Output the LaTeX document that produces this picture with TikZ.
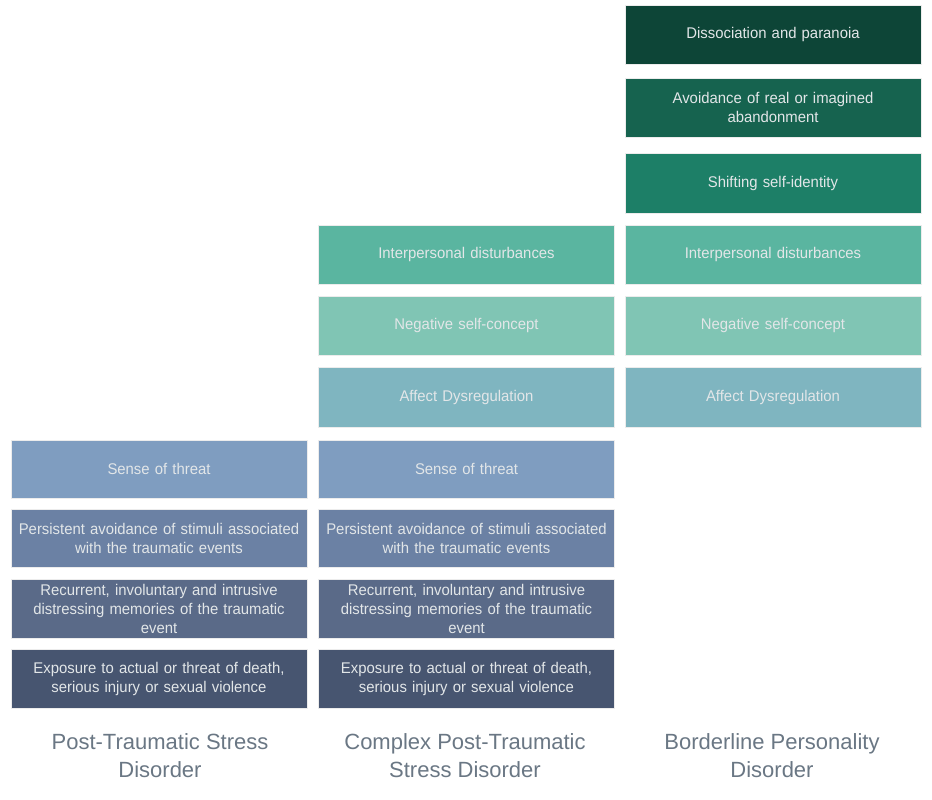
\documentclass[tikz,border=0pt]{standalone}
\usepackage{fontspec}
\setmainfont{Liberation Sans}
\newfontfamily\boxfont[FakeStretch=0.96]{Liberation Sans}
\newfontfamily\labfont{Liberation Sans}
\definecolor{cDis}{HTML}{0D4537}
\definecolor{cAvo}{HTML}{16634F}
\definecolor{cShi}{HTML}{1D7F67}
\definecolor{cInt}{HTML}{5AB5A0}
\definecolor{cNeg}{HTML}{80C5B4}
\definecolor{cAff}{HTML}{7FB5C0}
\definecolor{cSen}{HTML}{7F9DC0}
\definecolor{cPer}{HTML}{6B81A4}
\definecolor{cRec}{HTML}{5A6A88}
\definecolor{cExp}{HTML}{475570}
\definecolor{boxtext}{HTML}{E2E6E8}
\definecolor{labtext}{HTML}{6A7784}
\begin{document}
\begin{tikzpicture}[x=1pt,y=-1pt,
  box/.style={draw=white!85!gray, line width=0.6pt, minimum width=296pt, minimum height=59pt,
    text width=290pt, align=center, inner sep=0pt, text=boxtext,
    font=\boxfont\fontsize{15.5}{19}\selectfont},
  lab/.style={align=center, text=labtext, font=\labfont\fontsize{22}{28}\selectfont}]
\useasboundingbox[fill=white] (0,0) rectangle (932,800);
% column 3 : Borderline
\node[box, fill=cDis] (b1) at (773,34.5) {Dissociation and paranoia};
\node[box, fill=cAvo] (b2) at (773,107.5) {Avoidance of real or imagined\\abandonment};
\node[box, fill=cShi, minimum height=60pt] (b3) at (773,183) {Shifting self-identity};
\node[box, fill=cInt] (b4) at (773,254.5) {Interpersonal disturbances};
\node[box, fill=cNeg] (b5) at (773,325.5) {Negative self-concept};
\node[box, fill=cAff, minimum height=60pt] (b6) at (773,397) {Affect Dysregulation};
% column 2 : Complex PTSD
\node[box, fill=cInt] (c1) at (466.5,254.5) {Interpersonal disturbances};
\node[box, fill=cNeg] (c2) at (466.5,325.5) {Negative self-concept};
\node[box, fill=cAff, minimum height=60pt] (c3) at (466.5,397) {Affect Dysregulation};
\node[box, fill=cSen, minimum height=58pt] (c4) at (466.5,469) {Sense of threat};
\node[box, fill=cPer, minimum height=58pt] (c5) at (466.5,538) {Persistent avoidance of stimuli associated\\with the traumatic events};
\node[box, fill=cRec] (c6) at (466.5,608.5) {Recurrent, involuntary and intrusive\\distressing memories of the traumatic\\event};
\node[box, fill=cExp] (c7) at (466.5,678.5) {Exposure to actual or threat of death,\\serious injury or sexual violence};
% column 1 : PTSD
\node[box, fill=cSen, minimum height=58pt] (p1) at (159,469) {Sense of threat};
\node[box, fill=cPer, minimum height=58pt] (p2) at (159,538) {Persistent avoidance of stimuli associated\\with the traumatic events};
\node[box, fill=cRec] (p3) at (159,608.5) {Recurrent, involuntary and intrusive\\distressing memories of the traumatic\\event};
\node[box, fill=cExp] (p4) at (159,678.5) {Exposure to actual or threat of death,\\serious injury or sexual violence};
% labels
\node[lab] (l1) at (160,756) {Post-Traumatic Stress\\Disorder};
\node[lab] (l2) at (465,756) {Complex Post-Traumatic\\Stress Disorder};
\node[lab] (l3) at (772,756) {Borderline Personality\\Disorder};
\end{tikzpicture}
\end{document}
